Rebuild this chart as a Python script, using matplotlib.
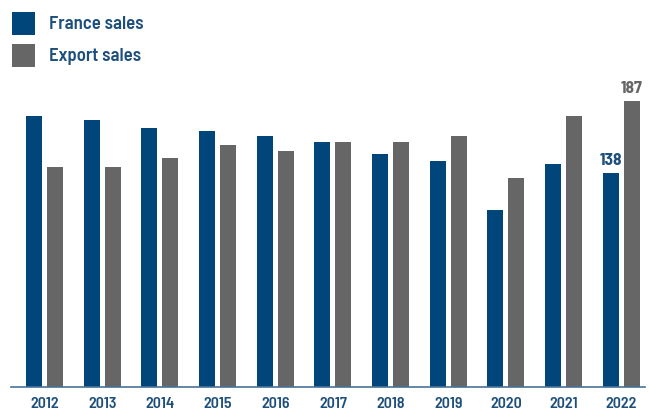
import matplotlib
matplotlib.use("Agg")
import matplotlib.pyplot as plt
from matplotlib.patches import Rectangle
import numpy as np

years = ["2012", "2013", "2014", "2015", "2016", "2017", "2018", "2019", "2020", "2021", "2022"]
france_sales = [177, 174, 169, 167, 163, 159, 151, 146, 113, 144, 138]
export_sales = [142, 142, 148, 157, 153, 159, 159, 163, 135, 177, 187]
series_names = ["France sales", "Export sales"]

BLUE = "#00467a"
GREY = "#666666"
TEXT_BLUE = "#1d4f7c"
FONT = ["Barlow Semi Condensed", "DejaVu Sans"]
WEIGHT = 600

W, H = 650, 412
fig = plt.figure(figsize=(W / 100, H / 100), dpi=100)

base_px, top_px, left_px, right_px = 386.5, 90, 11, 645
ax = fig.add_axes([left_px / W, (H - base_px) / H, (right_px - left_px) / W, (base_px - top_px) / H])

ymin, ymax = -7.3, 194.6
x = np.arange(len(years))
bw = 0.277
off = 0.182
ax.bar(x - off, [v - ymin for v in france_sales], bottom=ymin, width=bw, color=BLUE)
ax.bar(x + off, [v - ymin for v in export_sales], bottom=ymin, width=bw, color=GREY)

ax.set_xlim(-0.58, 10.41)
ax.set_ylim(ymin, ymax)
for s in ["top", "right", "left"]:
    ax.spines[s].set_visible(False)
ax.spines["bottom"].set_color("#4a7399")
ax.spines["bottom"].set_linewidth(1.2)
ax.set_yticks([])
ax.set_xticks(x)
ax.set_xticklabels(years, fontfamily=FONT, fontweight=WEIGHT, fontsize=11.5, color=TEXT_BLUE)
ax.tick_params(axis="x", length=0, pad=7.5)

# value labels on last year
i = len(years) - 1
ax.annotate(str(france_sales[i]), (x[i] - off, france_sales[i]), xytext=(0, 4), textcoords="offset points",
            ha="center", va="bottom", fontfamily=FONT, fontweight="bold", fontsize=12.5, color=TEXT_BLUE)
ax.annotate(str(export_sales[i]), (x[i] + off, export_sales[i]), xytext=(0, 4), textcoords="offset points",
            ha="center", va="bottom", fontfamily=FONT, fontweight="bold", fontsize=12.5, color=GREY)

# legend
for k, (name, col) in enumerate(zip(series_names, [BLUE, GREY])):
    top = 12 + 32 * k
    fig.add_artist(Rectangle((12 / W, (H - top - 23) / H), 23 / W, 23 / H,
                             transform=fig.transFigure, color=col, lw=0))
    fig.text(49 / W, (H - top - 12.5) / H, name, ha="left", va="center",
             fontfamily=FONT, fontweight=WEIGHT, fontsize=13.5, color=TEXT_BLUE)

fig.savefig("out.png", dpi=100)
